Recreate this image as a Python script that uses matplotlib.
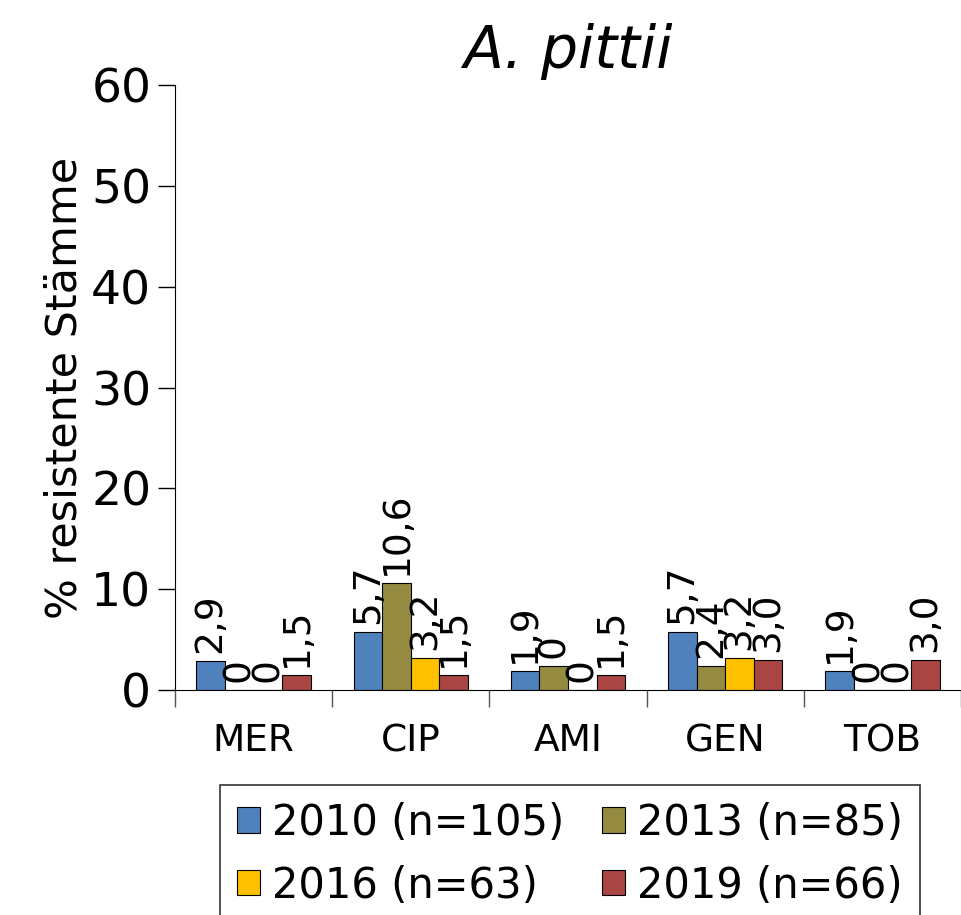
import matplotlib.pyplot as plt
import numpy as np

categories = ['MER', 'CIP', 'AMI', 'GEN', 'TOB']
series = ['2010 (n=105)', '2013 (n=85)', '2016 (n=63)', '2019 (n=66)']
values = [
    [2.9, 5.7, 1.9, 5.7, 1.9],
    [0.0, 10.6, 2.4, 2.4, 0.0],
    [0.0, 3.2, 0.0, 3.2, 0.0],
    [1.5, 1.5, 1.5, 3.0, 3.0],
]
labels = [
    ['2,9', '5,7', '1,9', '5,7', '1,9'],
    ['0', '10,6', '0', '2,4', '0'],
    ['0', '3,2', '0', '3,2', '0'],
    ['1,5', '1,5', '1,5', '3,0', '3,0'],
]
colors = ['#4F81BD', '#948B40', '#FFC000', '#A94543']

plt.rcParams['font.family'] = 'DejaVu Sans'
fig = plt.figure(figsize=(9.61, 9.15), dpi=100)
ax = fig.add_axes([0.182, 0.246, 0.818, 0.661])

x = np.arange(len(categories))
w = 0.182
bars = []
for i, (vals, c) in enumerate(zip(values, colors)):
    pos = x - 1.5 * w + i * w
    b = ax.bar(pos, vals, width=w, color=c, edgecolor='black', linewidth=0.8,
               label=series[i])
    bars.append(b)
    for p, v, t in zip(pos, vals, labels[i]):
        ax.text(p, v + 0.8, t, rotation=90, ha='center', va='bottom',
                fontsize=27)

ax.set_xlim(-0.5, len(categories) - 0.5)
ax.set_ylim(0, 60)
ax.set_yticks(range(0, 61, 10))
ax.tick_params(axis='y', labelsize=34, length=12, width=1, pad=5)
ax.set_xticks(x)
ax.set_xticklabels(categories, fontsize=27)
ax.tick_params(axis='x', length=0, pad=24)
ax.set_xticks(np.arange(-0.5, len(categories), 1), minor=True)
ax.tick_params(axis='x', which='minor', length=12, width=1, color='#555555')
ax.spines['top'].set_visible(False)
ax.spines['right'].set_visible(False)
ax.set_ylabel('% resistente Stämme', fontsize=31, labelpad=4)
ax.set_title('A. pittii', fontsize=42, style='italic', pad=12)

order = [0, 2, 1, 3]
leg = fig.legend([bars[k] for k in order], [series[k] for k in order],
                 loc='upper left', bbox_to_anchor=(0.229, 0.142), ncol=2,
                 borderaxespad=0, fontsize=30, frameon=True, fancybox=False,
                 edgecolor='black', handlelength=0.55, handleheight=0.55,
                 handletextpad=0.3, columnspacing=0.9, borderpad=0.4,
                 labelspacing=0.5)
leg.get_frame().set_linewidth(1.2)

fig.savefig('out.png', dpi=100)
